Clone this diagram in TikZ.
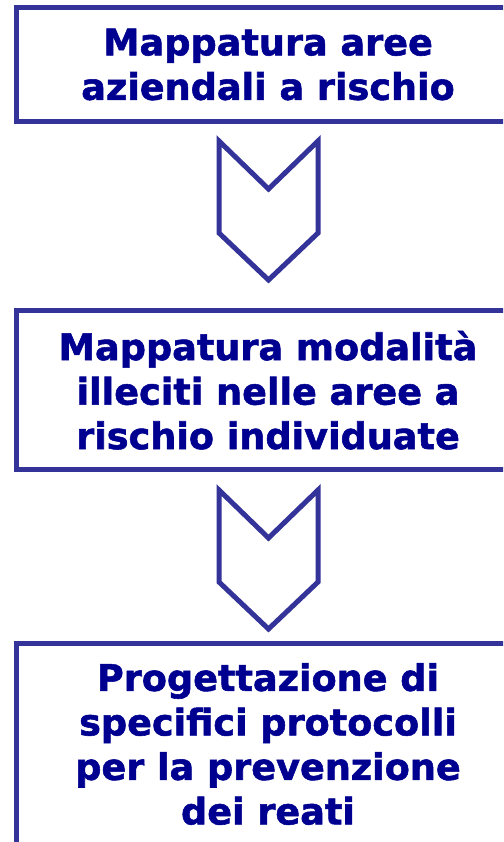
\documentclass[tikz,border=0pt]{standalone}
\usepackage{fontspec}
\setmainfont{DejaVu Sans}[BoldFeatures={FakeBold=1.5}]
\usepackage{tikz}
\usepackage{xcolor}
\definecolor{bordo}{RGB}{51,51,153}
\definecolor{testo}{RGB}{0,0,144}

\begin{document}
\begin{tikzpicture}[x=1pt,y=-1pt,
        fase/.style={draw=bordo, line width=5pt, minimum width=504pt,
            align=center, inner sep=0pt, text=testo,
            font=\bfseries\fontsize{36.6}{44.5}\selectfont},
        freccia/.style={draw=bordo, line width=5pt, line join=miter}]
    \useasboundingbox (0,0) rectangle (503,842);
    \clip (0,0) rectangle (503,842);
    \node[fase, minimum height=114pt] (aree) at (268,64.5)
        {Mappatura aree\\aziendali a rischio};
    \node[fase, minimum height=158.7pt] (modalita) at (268,390.2)
        {Mappatura modalità\\illeciti nelle aree a\\rischio individuate};
    \node[fase, minimum height=201pt] (protocolli) at (268,744)
        {Progettazione di\\specifici protocolli\\per la prevenzione\\dei reati};
    % frecce a chevron
    \foreach \t in {141,490}
        \draw[freccia] (219,\t) -- ++(49.5,48) -- ++(49.5,-48) -- ++(0,92)
            -- ++(-49.5,47) -- ++(-49.5,-47) -- cycle;
\end{tikzpicture}
\end{document}
